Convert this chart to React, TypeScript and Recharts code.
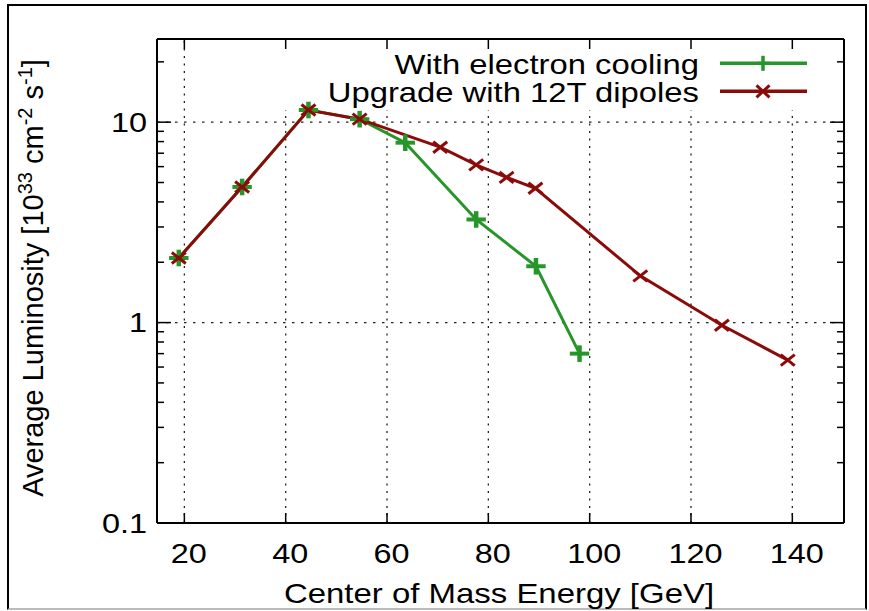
import React from 'react';
import { LineChart, Line, XAxis, YAxis, ReferenceLine, Legend } from 'recharts';

const FONT = '"Liberation Sans", Arial, Helvetica, sans-serif';

// ---- data ----
const coolingEnergy = [18.9, 31.4, 44.5, 54.6, 63.6, 77.6, 89.4, 98.0];
const coolingLumi = [2.1, 4.75, 11.5, 10.35, 7.9, 3.27, 1.91, 0.7];
const dipoleEnergy = [18.9, 31.4, 44.5, 54.6, 70.5, 77.6, 83.6, 89.3, 110.0, 126.1, 139.1];
const dipoleLumi = [2.1, 4.75, 11.5, 10.35, 7.5, 6.12, 5.3, 4.68, 1.71, 0.97, 0.65];
const seriesNames = ['With electron cooling', 'Upgrade with 12T dipoles'];
const seriesColors = ['#26962b', '#8b0b0b'];
const xTicks = [20, 40, 60, 80, 100, 120, 140];
const yMajorTicks = [0.1, 1, 10];
const yAllTicks = [0.1, 0.2, 0.3, 0.4, 0.5, 0.6, 0.7, 0.8, 0.9, 1, 2, 3, 4, 5, 6, 7, 8, 9, 10, 20];
const xDomain = [14.6, 150.2];
const yDomain = [0.1, 26];
const KEY_BOTTOM = 11.5; // grid lines stop under the key box

const coolingData = coolingEnergy.map((e, i) => ({ energy: e, lumi: coolingLumi[i] }));
const dipoleData = dipoleEnergy.map((e, i) => ({ energy: e, lumi: dipoleLumi[i] }));

const PlusMarker = ({ cx, cy, rx, ry, w, color }: any) => (
  <g>
    <line x1={cx - rx} y1={cy} x2={cx + rx} y2={cy} stroke={color} strokeWidth={w} />
    <line x1={cx} y1={cy - ry} x2={cx} y2={cy + ry} stroke={color} strokeWidth={w + 0.5} />
  </g>
);

const CrossMarker = ({ cx, cy, rx, ry, w, color }: any) => (
  <g>
    <line x1={cx - rx} y1={cy - ry} x2={cx + rx} y2={cy + ry} stroke={color} strokeWidth={w} />
    <line x1={cx - rx} y1={cy + ry} x2={cx + rx} y2={cy - ry} stroke={color} strokeWidth={w} />
  </g>
);

const LeftTick = (props: any) => {
  const { x, y, payload } = props;
  const major = yMajorTicks.includes(payload.value);
  return (
    <g>
      <line x1={x} y1={y} x2={x + (major ? 14 : 7)} y2={y} stroke="#000" strokeWidth={1.5} />
      {major && (
        <text
          transform={`translate(${x - 10},${y + 9.5}) scale(1.2,1)`}
          textAnchor="end"
          fontFamily={FONT}
          fontSize={27}
          fill="#000"
        >
          {String(payload.value)}
        </text>
      )}
    </g>
  );
};

const RightTick = (props: any) => {
  const { x, y, payload } = props;
  const major = yMajorTicks.includes(payload.value);
  return <line x1={x} y1={y} x2={x - (major ? 14 : 7)} y2={y} stroke="#000" strokeWidth={1.5} />;
};

const BottomTick = (props: any) => {
  const { x, y, payload } = props;
  return (
    <g>
      <line x1={x} y1={y} x2={x} y2={y - 10} stroke="#000" strokeWidth={1.5} />
      <text
        transform={`translate(${x + 4.5},${y + 40}) scale(1.2,1)`}
        textAnchor="middle"
        fontFamily={FONT}
        fontSize={27}
        fill="#000"
      >
        {String(payload.value)}
      </text>
    </g>
  );
};

const TopTick = (props: any) => {
  const { x, y } = props;
  return <line x1={x} y1={y} x2={x} y2={y + 10} stroke="#000" strokeWidth={1.5} />;
};

const XLabel = (props: any) => {
  const vb = props.viewBox || {};
  const cx = vb.x + vb.width / 2 - 1.5;
  const by = vb.y + 80;
  return (
    <text
      transform={`translate(${cx},${by}) scale(1.22,1)`}
      textAnchor="middle"
      fontFamily={FONT}
      fontSize={27}
      fill="#000"
    >
      Center of Mass Energy [GeV]
    </text>
  );
};

const YLabel = (props: any) => {
  const vb = props.viewBox || {};
  const bx = vb.x + 43;
  const cy = vb.y + vb.height / 2 - 3;
  return (
    <text
      transform={`translate(${bx},${cy}) rotate(-90)`}
      textAnchor="middle"
      fontFamily={FONT}
      fontSize={29}
      fill="#000"
    >
      Average Luminosity [10
      <tspan dy={-11} fontSize={20}>33</tspan>
      <tspan dy={11}> cm</tspan>
      <tspan dy={-11} fontSize={20}>-2</tspan>
      <tspan dy={11}> s</tspan>
      <tspan dy={-11} fontSize={20}>-1</tspan>
      <tspan dy={11}>]</tspan>
    </text>
  );
};

const renderLegend = () => (
  <svg width={869} height={120} style={{ display: 'block' }}>
    {seriesNames.map((name, i) => {
      const cy = 63.3 + i * 28;
      const color = seriesColors[i];
      return (
        <g key={name}>
          <text
            transform={`translate(699,${cy + 10.8}) scale(1.215,1)`}
            textAnchor="end"
            fontFamily={FONT}
            fontSize={27}
            fill="#000"
          >
            {name}
          </text>
          <line x1={720} y1={cy} x2={807} y2={cy} stroke={color} strokeWidth={3.5} />
          {i === 0 ? (
            <PlusMarker cx={763} cy={cy} rx={7.5} ry={7.5} w={3} color={color} />
          ) : (
            <CrossMarker cx={763} cy={cy} rx={6.5} ry={6} w={3} color={color} />
          )}
        </g>
      );
    })}
  </svg>
);

const gridStyle = { stroke: '#222', strokeWidth: 1.3 };

export default function App() {
  return (
    <div style={{ position: 'absolute', left: 0, top: 0, width: 869, height: 611, background: '#fff' }}>
      <div
        style={{
          position: 'absolute',
          left: 7,
          top: 4,
          width: 860,
          height: 606,
          boxSizing: 'border-box',
          borderLeft: '2px solid #000',
          borderTop: '2px solid #000',
          borderRight: '2px solid #000',
          borderBottom: '2px solid #bbb',
        }}
      />
      <div style={{ position: 'absolute', left: 0, top: 0 }}>
        <LineChart width={869} height={611} margin={{ top: 38, right: 24, bottom: 0, left: 0 }}>
          <XAxis
            xAxisId="bottom"
            dataKey="energy"
            type="number"
            orientation="bottom"
            domain={xDomain}
            allowDataOverflow
            ticks={xTicks}
            interval={0}
            height={88}
            tickSize={0}
            tickMargin={0}
            tickLine={false}
            tick={<BottomTick />}
            axisLine={{ stroke: '#000', strokeWidth: 2 }}
            label={{ content: <XLabel /> } as any}
          />
          <XAxis
            xAxisId="top"
            dataKey="energy"
            type="number"
            orientation="top"
            domain={xDomain}
            allowDataOverflow
            ticks={xTicks}
            interval={0}
            height={1}
            tickSize={0}
            tickMargin={0}
            tickLine={false}
            tick={<TopTick />}
            axisLine={{ stroke: '#000', strokeWidth: 2 }}
          />
          <YAxis
            yAxisId="left"
            type="number"
            scale="log"
            orientation="left"
            domain={yDomain}
            allowDataOverflow
            ticks={yAllTicks}
            interval={0}
            width={157}
            tickSize={0}
            tickMargin={0}
            tickLine={false}
            tick={<LeftTick />}
            axisLine={{ stroke: '#000', strokeWidth: 2 }}
            label={{ content: <YLabel /> } as any}
          />
          <YAxis
            yAxisId="right"
            type="number"
            scale="log"
            orientation="right"
            domain={yDomain}
            allowDataOverflow
            ticks={yAllTicks}
            interval={0}
            width={1}
            tickSize={0}
            tickMargin={0}
            tickLine={false}
            tick={<RightTick />}
            axisLine={{ stroke: '#000', strokeWidth: 2 }}
          />
          {yMajorTicks
            .filter((v) => v > yDomain[0])
            .map((v) => (
              <ReferenceLine
                key={`hy${v}`}
                xAxisId="bottom"
                yAxisId="left"
                y={v}
                {...gridStyle}
                strokeDasharray="2.5 6.5"
              />
            ))}
          {xTicks.map((v, i) => (
            <ReferenceLine
              key={`vx${v}`}
              xAxisId="bottom"
              yAxisId="left"
              segment={[
                { x: v, y: yDomain[0] },
                { x: v, y: i === 0 ? yDomain[1] : KEY_BOTTOM },
              ]}
              {...gridStyle}
              strokeDasharray="2 5.5"
            />
          ))}
          <Legend
            layout="horizontal"
            verticalAlign="middle"
            align="center"
            content={renderLegend}
            wrapperStyle={{ position: 'absolute', left: 0, top: 0, width: 869, height: 120 }}
          />
          <Line
            xAxisId="bottom"
            yAxisId="left"
            data={coolingData}
            dataKey="lumi"
            name={seriesNames[0]}
            type="linear"
            stroke={seriesColors[0]}
            strokeWidth={3}
            isAnimationActive={false}
            activeDot={false}
            dot={(p: any) => (
              <PlusMarker key={`c${p.index}`} cx={p.cx} cy={p.cy} rx={9.7} ry={8.3} w={4} color={seriesColors[0]} />
            )}
          />
          <Line
            xAxisId="bottom"
            yAxisId="left"
            data={dipoleData}
            dataKey="lumi"
            name={seriesNames[1]}
            type="linear"
            stroke={seriesColors[1]}
            strokeWidth={3}
            isAnimationActive={false}
            activeDot={false}
            dot={(p: any) => (
              <CrossMarker key={`d${p.index}`} cx={p.cx} cy={p.cy} rx={7} ry={5.5} w={3} color={seriesColors[1]} />
            )}
          />
        </LineChart>
      </div>
    </div>
  );
}
